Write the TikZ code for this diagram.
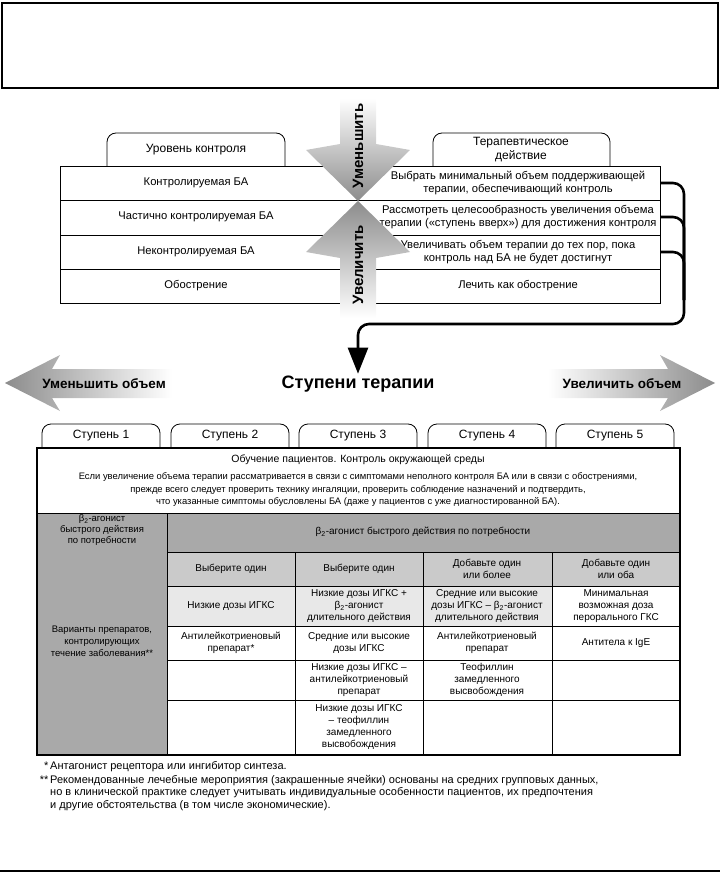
\documentclass[tikz,border=0pt]{standalone}
\usepackage{fontspec}
\setmainfont{Liberation Sans}
\usetikzlibrary{arrows.meta}
\definecolor{hdrgray}{HTML}{A9A9A9}
\definecolor{subgray}{HTML}{CACACA}
\definecolor{cellgray}{HTML}{E8E8E8}
\definecolor{arrowgray}{HTML}{8C8C8C}
\tikzstyle{tabline}=[line width=0.8pt]
\tikzstyle{boxline}=[line width=1.2pt]
\tikzstyle{tabtext}=[inner sep=0pt,align=center,font=\fontsize{12}{14}\selectfont]
\tikzstyle{rowtext}=[inner sep=0pt,align=center,font=\fontsize{11.2}{13.5}\selectfont]
\tikzstyle{celltext}=[inner sep=0pt,align=center,font=\fontsize{10}{12.3}\selectfont]
\tikzstyle{smalltext}=[inner sep=0pt,align=center,font=\fontsize{9.4}{12.5}\selectfont]
\tikzstyle{notetext}=[inner sep=0pt,align=left,font=\fontsize{11}{12.6}\selectfont]
\tikzstyle{arrowtext}=[inner sep=0pt,font=\bfseries\fontsize{13.5}{16}\selectfont]
\tikzstyle{brkt}=[line width=2.6pt,rounded corners=11pt]

\begin{document}
\begin{tikzpicture}[x=1pt,y=-1pt]
    \useasboundingbox (0,0) rectangle (720,874);
    \draw[boxline] (2,3) rectangle (718,88);
    \draw[boxline] (0,871) -- (720,871);

    % control level table
    \draw[tabline,rounded corners=9pt] (107,166) -- (107,133) -- (285,133) -- (285,166);
    \draw[tabline,rounded corners=9pt] (433,166) -- (433,133) -- (610,133) -- (610,166);
    \node[tabtext] (lvl) at (196,150) {Уровень контроля};
    \node[tabtext] (act) at (521,150) {Терапевтическое\\действие};
    \draw[tabline] (60,166) rectangle (660,303);
    \foreach \y in {200,235,269}
    \draw[tabline] (60,\y) -- (660,\y);

    \node[rowtext] (lvl1) at (196,183) {Контролируемая БА};
    \node[rowtext] (lvl2) at (196,217) {Частично контролируемая БА};
    \node[rowtext] (lvl3) at (196,252) {Неконтролируемая БА};
    \node[rowtext] (lvl4) at (196,286) {Обострение};
    \node[rowtext] (act1) at (518,183) {Выбрать минимальный объем поддерживающей\\терапии, обеспечивающий контроль};
    \node[rowtext] (act2) at (518,217) {Рассмотреть целесообразность увеличения объема\\терапии («ступень вверх») для достижения контроля};
    \node[rowtext] (act3) at (518,252) {Увеличивать объем терапии до тех пор, пока\\контроль над БА не будет достигнут};
    \node[rowtext] (act4) at (518,286) {Лечить как обострение};

    % gray arrows
    \shade[top color=white,bottom color=arrowgray] (340,98) -- (376,98) -- (376,144) -- (410,150) -- (358,201) -- (306,150) -- (340,144) -- cycle;
    \shade[top color=arrowgray,bottom color=white] (358,201) -- (410,252) -- (376,258) -- (376,318) -- (340,318) -- (340,258) -- (306,252) -- cycle;
    \node[arrowtext,font=\bfseries\fontsize{15}{17}\selectfont,rotate=90] (down) at (358,146) {Уменьшить};
    \node[arrowtext,font=\bfseries\fontsize{15}{17}\selectfont,rotate=90] (up) at (358,265) {Увеличить};

    \shade[left color=arrowgray,right color=white] (5,383) -- (60,355) -- (52,369) -- (172,369) -- (172,398) -- (52,398) -- (60,411) -- cycle;
    \shade[left color=white,right color=arrowgray] (715,383) -- (660,355) -- (668,369) -- (548,369) -- (548,398) -- (668,398) -- (660,411) -- cycle;
    \node[arrowtext] (less) at (104,384) {Уменьшить объем};
    \node[arrowtext] (more) at (622,384) {Увеличить объем};
    \node[inner sep=2pt,font=\bfseries\fontsize{18}{20}\selectfont] (title) at (358,384) {Ступени терапии};

    % bracket from the actions
    \coordinate (ctl1) at (660,183);
    \coordinate (ctl2) at (660,217);
    \coordinate (ctl3) at (660,252);
    \draw[brkt,-{Triangle[width=20pt,length=26pt]}] (ctl1) -- (684,183) -- (684,324) -- (358,324) -- (title.north);
    \draw[brkt] (ctl2) -- (684,217) -- (684,300);
    \draw[brkt] (ctl3) -- (684,252) -- (684,300);

    % step tabs
    \foreach \i/\xl in {1/42,2/171,3/299,4/428,5/556}{
      \draw[tabline,rounded corners=9pt] (\xl,448) -- (\xl,424) -- (\xl+118,424) -- (\xl+118,448);
      \node[tabtext] (step\i) at (\xl+59,436) {Ступень \i};
    }

    % therapy table
    \fill[hdrgray] (37,513) rectangle (167,755);
    \fill[hdrgray] (167,513) rectangle (680,552);
    \fill[subgray] (167,552) rectangle (680,586);
    \fill[cellgray] (167,586) rectangle (552,626);
    \draw[tabline] (37,513) -- (680,513);
    \draw[tabline] (167,513) -- (167,755);
    \draw[tabline] (167,552) -- (680,552);
    \foreach \y in {586,626,660,700}
    \draw[tabline] (167,\y) -- (680,\y);
    \foreach \x in {295,423,552}
    \draw[tabline] (\x,552) -- (\x,755);
    \draw[boxline] (37,448) rectangle (680,755);

    \node[celltext,font=\fontsize{10.5}{12}\selectfont] (edu) at (358,460) {Обучение пациентов. Контроль окружающей среды};
    \node[smalltext] (check) at (358,490) {Если увеличение объема терапии рассматривается в связи с симптомами неполного контроля БА или в связи с обострениями,\\прежде всего следует проверить технику ингаляции, проверить соблюдение назначений и подтвердить,\\что указанные симптомы обусловлены БА (даже у пациентов с уже диагностированной БА).};

    \node[celltext,font=\fontsize{9.5}{11}\selectfont] (relief) at (102,530) {β\textsubscript{2}-агонист\\быстрого действия\\по потребности};
    \node[celltext] (reliefall) at (423,532) {β\textsubscript{2}-агонист быстрого действия по потребности};
    \node[celltext,font=\fontsize{9.5}{12}\selectfont] (ctrl) at (102,641) {Варианты препаратов,\\контролирующих\\течение заболевания**};

    \node[celltext] (h2) at (231,569) {Выберите один};
    \node[celltext] (h3) at (359,569) {Выберите один};
    \node[celltext] (h4) at (487,569) {Добавьте один\\или более};
    \node[celltext] (h5) at (616,569) {Добавьте один\\или оба};

    \node[celltext] (s2a) at (231,606) {Низкие дозы ИГКС};
    \node[celltext] (s3a) at (359,606) {Низкие дозы ИГКС +\\β\textsubscript{2}-агонист\\длительного действия};
    \node[celltext] (s4a) at (487,606) {Средние или высокие\\дозы ИГКС – β\textsubscript{2}-агонист\\длительного действия};
    \node[celltext] (s5a) at (616,606) {Минимальная\\возможная доза\\перорального ГКС};

    \node[celltext] (s2b) at (231,643) {Антилейкотриеновый\\препарат*};
    \node[celltext] (s3b) at (359,643) {Средние или высокие\\дозы ИГКС};
    \node[celltext] (s4b) at (487,643) {Антилейкотриеновый\\препарат};
    \node[celltext] (s5b) at (616,643) {Антитела к IgE};

    \node[celltext] (s3c) at (359,680) {Низкие дозы ИГКС –\\антилейкотриеновый\\препарат};
    \node[celltext] (s4c) at (487,680) {Теофиллин\\замедленного\\высвобождения};
    \node[celltext] (s3d) at (359,727) {Низкие дозы ИГКС\\– теофиллин\\замедленного\\высвобождения};

    % notes
    \node[notetext,anchor=north west] (note1) at (50,761) {\llap{*\,}Антагонист рецептора или ингибитор синтеза.};
    \node[notetext,anchor=north west] (note2) at (50,775) {\llap{**\,}Рекомендованные лечебные мероприятия (закрашенные ячейки) основаны на средних групповых данных,\\но в клинической практике следует учитывать индивидуальные особенности пациентов, их предпочтения\\и другие обстоятельства (в том числе экономические).};
\end{tikzpicture}
\end{document}
